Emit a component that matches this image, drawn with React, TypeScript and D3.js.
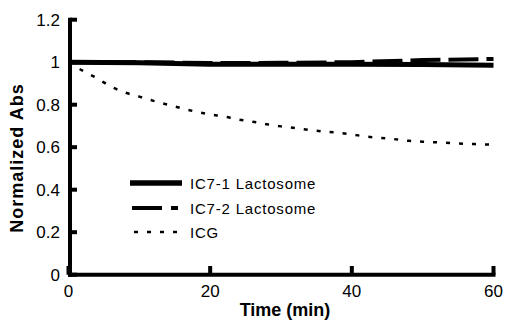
import React from "react";
import * as d3 from "d3";

const time = [0, 2, 4, 6, 8, 10, 12, 14, 16, 18, 20, 22, 24, 26, 28, 30, 32, 34, 36, 38, 40, 42, 44, 46, 48, 50, 52, 54, 56, 58, 60];
const icg = [1.0, 0.96, 0.925, 0.885, 0.857, 0.838, 0.818, 0.8, 0.783, 0.767, 0.754, 0.744, 0.73, 0.72, 0.708, 0.698, 0.69, 0.681, 0.674, 0.668, 0.66, 0.65, 0.644, 0.638, 0.63, 0.626, 0.623, 0.62, 0.616, 0.614, 0.612];
const lacTime = [0, 10, 20, 30, 40, 50, 60];
const ic71 = [1.0, 0.997, 0.99, 0.99, 0.99, 0.989, 0.986];
const ic72 = [1.0, 1.0, 0.996, 0.997, 1.0, 1.01, 1.015];
const yTicks = [0, 0.2, 0.4, 0.6, 0.8, 1, 1.2];
const xTicks = [0, 20, 40, 60];
const legendLabels = ["IC7-1 Lactosome", "IC7-2 Lactosome", "ICG"];

const FONT = "'Liberation Sans', Arial, sans-serif";

export default function App() {
  const x = d3.scaleLinear().domain([0, 60]).range([68.5, 493.5]);
  const y = d3.scaleLinear().domain([0, 1.2]).range([274.7, 19.7]);
  const line = d3
    .line<[number, number]>()
    .x((d) => x(d[0]))
    .y((d) => y(d[1]));
  const smooth = d3
    .line<[number, number]>()
    .x((d) => x(d[0]))
    .y((d) => y(d[1]))
    .curve(d3.curveMonotoneX);
  const d71 = line(lacTime.map((t, i) => [t, ic71[i]]));
  const d72 = line(lacTime.map((t, i) => [t, ic72[i]]));
  const dIcg = smooth(time.map((t, i) => [t, icg[i]]));
  const axisX = 70;
  const axisY = y(0);

  const legendY = [183, 208, 232];
  const legendTextY = [189, 214, 238];

  return (
    <svg
      width={506}
      height={321}
      style={{ position: "absolute", left: 0, top: 0, background: "#fff" }}
      fontFamily={FONT}
    >
      <rect x={0} y={0} width={506} height={321} fill="#fff" />
      {/* data lines */}
      <path d={dIcg || ""} fill="none" stroke="#000" strokeWidth={2.5} strokeDasharray="4,9" />
      <path d={d71 || ""} fill="none" stroke="#000" strokeWidth={5} />
      <path d={d72 || ""} fill="none" stroke="#000" strokeWidth={4} strokeDasharray="30,8" />

      {/* axes */}
      <line x1={axisX} x2={axisX} y1={y(1.2) - 2} y2={axisY + 2} stroke="#000" strokeWidth={4} />
      <line x1={axisX - 2} x2={x(60) + 2} y1={axisY} y2={axisY} stroke="#000" strokeWidth={4} />
      {yTicks.map((v) => (
        <g key={"y" + v}>
          <line x1={axisX} x2={77} y1={y(v)} y2={y(v)} stroke="#000" strokeWidth={4} />
          <text x={60} y={y(v)} dy="0.35em" textAnchor="end" fontSize={17}>
            {String(v)}
          </text>
        </g>
      ))}
      {xTicks.map((v) => (
        <g key={"x" + v}>
          <line x1={x(v)} x2={x(v)} y1={axisY} y2={266} stroke="#000" strokeWidth={4} />
          <text x={x(v)} y={297} textAnchor="middle" fontSize={17}>
            {String(v)}
          </text>
        </g>
      ))}
      <text x={285} y={316} textAnchor="middle" fontSize={18} fontWeight="bold">
        Time (min)
      </text>
      <text
        transform={`translate(23,158) rotate(-90)`}
        textAnchor="middle"
        fontSize={18}
        fontWeight="bold"
        letterSpacing={1}
      >
        Normalized Abs
      </text>

      {/* legend */}
      <line x1={130} x2={182} y1={legendY[0]} y2={legendY[0]} stroke="#000" strokeWidth={5.5} />
      <line x1={132} x2={178} y1={legendY[1]} y2={legendY[1]} stroke="#000" strokeWidth={4} strokeDasharray="30,9" />
      <line x1={134} x2={182} y1={legendY[2]} y2={legendY[2]} stroke="#000" strokeWidth={2.5} strokeDasharray="4,9" />
      {legendLabels.map((s, i) => (
        <text key={s} x={190} y={legendTextY[i]} fontSize={15} letterSpacing={0.8}>
          {s}
        </text>
      ))}
    </svg>
  );
}
